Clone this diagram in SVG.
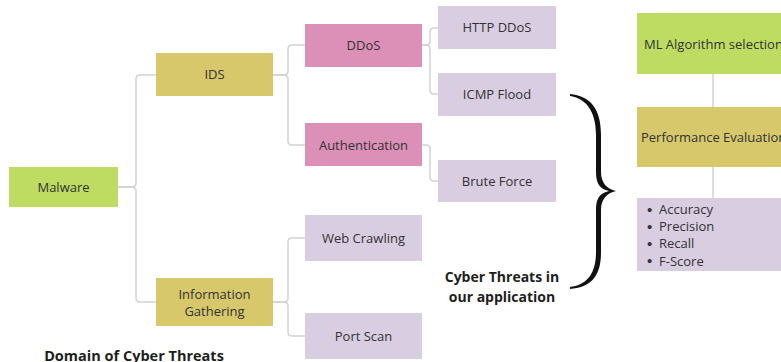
<svg xmlns="http://www.w3.org/2000/svg" width="781" height="362" viewBox="0 0 781 362">
  <style>
    .lbl { font-family: "Open Sans", "Noto Sans", "Liberation Sans", sans-serif; font-size: 13px; fill: #333333; }
    .mid { text-anchor: middle; }
    .dot { font-family: "Liberation Sans", sans-serif; font-size: 15px; fill: #333333; }
    .title { font-family: "Open Sans", "Liberation Sans", sans-serif; font-size: 14px; font-weight: bold; fill: #1e1e1e; text-anchor: middle; }
    .green { fill: #bedc62; }
    .khaki { fill: #d7c86c; }
    .pink { fill: #dc8fb7; }
    .lav { fill: #d9cde1; }
    .conn path, .conn line { fill: none; stroke: #d2d2d2; stroke-width: 1.5; }
  </style>
  <rect width="781" height="362" fill="#ffffff"/>

  <!-- tree connectors -->
  <g id="connectors" class="conn">
    <path d="M118,187 H132 Q136,187 136,183 V79 Q136,75 140,75 H156"/>
    <path d="M118,187 H132 Q136,187 136,191 V298 Q136,302 140,302 H156"/>
    <path d="M273,75 H284 Q288,75 288,71 V49 Q288,45 292,45 H305"/>
    <path d="M273,75 H284 Q288,75 288,79 V141 Q288,145 292,145 H305"/>
    <path d="M273,302 H284 Q288,302 288,298 V242 Q288,238 292,238 H305"/>
    <path d="M273,302 H284 Q288,302 288,306 V332 Q288,336 292,336 H305"/>
    <path d="M422,45 H426 Q430,45 430,41 V32 Q430,28 434,28 H438"/>
    <path d="M422,45 H426 Q430,45 430,49 V90 Q430,94 434,94 H438"/>
    <path d="M422,145 H426 Q430,145 430,149 V177 Q430,181 434,181 H438"/>
    <line x1="713" y1="74" x2="713" y2="107"/>
    <line x1="713" y1="167" x2="713" y2="198"/>
  </g>

  <g id="malware">
    <rect class="green" x="9" y="167" width="109" height="40"/>
    <text class="lbl mid" x="63.5" y="191.5">Malware</text>
  </g>
  <g id="ids">
    <rect class="khaki" x="156" y="53" width="117" height="43"/>
    <text class="lbl mid" x="214.5" y="79">IDS</text>
  </g>
  <g id="info-gathering">
    <rect class="khaki" x="156" y="278" width="117" height="48"/>
    <text class="lbl mid" x="214.5" y="298.5">Information</text>
    <text class="lbl mid" x="214.5" y="316">Gathering</text>
  </g>
  <g id="ddos">
    <rect class="pink" x="305" y="24" width="117" height="43"/>
    <text class="lbl mid" x="363.5" y="50">DDoS</text>
  </g>
  <g id="authentication">
    <rect class="pink" x="305" y="123" width="117" height="43"/>
    <text class="lbl mid" x="363.5" y="149.5">Authentication</text>
  </g>
  <g id="web-crawling">
    <rect class="lav" x="305" y="215" width="117" height="46"/>
    <text class="lbl mid" x="363.5" y="242.5">Web Crawling</text>
  </g>
  <g id="port-scan">
    <rect class="lav" x="305" y="313" width="117" height="46"/>
    <text class="lbl mid" x="363.5" y="340.5">Port Scan</text>
  </g>
  <g id="http-ddos">
    <rect class="lav" x="438" y="6" width="118" height="43"/>
    <text class="lbl mid" x="497" y="32">HTTP DDoS</text>
  </g>
  <g id="icmp-flood">
    <rect class="lav" x="438" y="73" width="118" height="43"/>
    <text class="lbl mid" x="497" y="99">ICMP Flood</text>
  </g>
  <g id="brute-force">
    <rect class="lav" x="438" y="160" width="118" height="42"/>
    <text class="lbl mid" x="497" y="186">Brute Force</text>
  </g>

  <!-- curly brace -->
  <g id="brace">
    <path fill="#111111" d="M570,94 C590,96 601,108 601,135 L601,172 C601,183 607,189 616,191 C607,193 601,199 601,210 L601,252 C601,278 590,287 570,289 L570,287 C585,285 596,276 596,252 L596,210 C596,198 600,193 609,191 C600,189 596,184 596,172 L596,135 C596,110 585,98 570,96 Z"/>
  </g>
  <g id="caption-app">
    <text class="title" x="502" y="282">Cyber Threats in</text>
    <text class="title" x="502" y="302">our application</text>
  </g>
  <g id="caption-domain">
    <text class="title" x="134" y="361" style="font-size:14.5px">Domain of Cyber Threats</text>
  </g>

  <g id="ml-selection">
    <rect class="green" x="637" y="13" width="150" height="61"/>
    <text class="lbl" x="644" y="48.5">ML Algorithm selection</text>
  </g>
  <g id="performance">
    <rect class="khaki" x="637" y="107" width="150" height="60"/>
    <text class="lbl" x="641" y="141.5">Performance Evaluation</text>
  </g>
  <g id="metrics">
    <rect class="lav" x="637" y="198" width="150" height="73"/>
    <text class="dot" x="647" y="214.5">•</text>
    <text class="lbl" x="659" y="214">Accuracy</text>
    <text class="dot" x="647" y="231.5">•</text>
    <text class="lbl" x="659" y="231">Precision</text>
    <text class="dot" x="647" y="248.5">•</text>
    <text class="lbl" x="659" y="248">Recall</text>
    <text class="dot" x="647" y="266">•</text>
    <text class="lbl" x="659" y="265.5">F-Score</text>
  </g>
</svg>
